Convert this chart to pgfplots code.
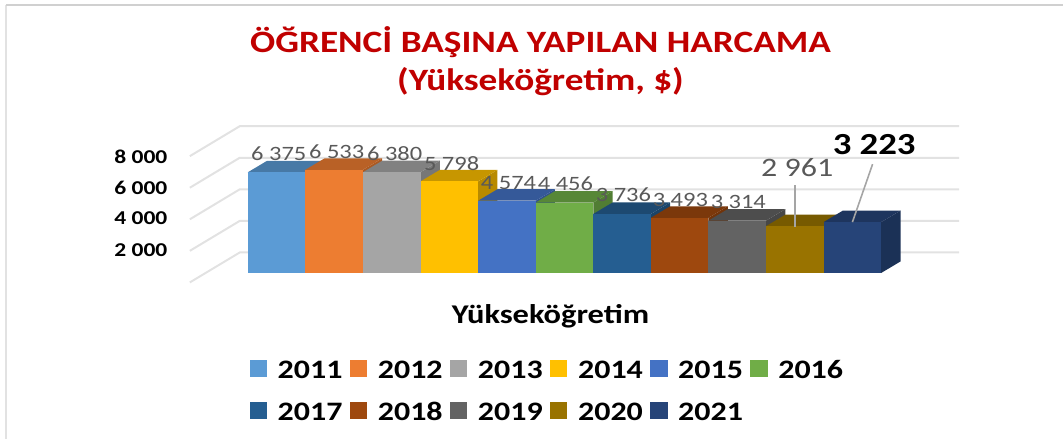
\documentclass[border=0pt]{standalone}
\usepackage{pgfplots}
\pgfplotsset{compat=1.18}
\usepackage{fontspec}
\setmainfont{Carlito}
\newfontfamily\wide[FakeStretch=1.2]{Carlito}
\definecolor{c1}{HTML}{5B9BD5}\definecolor{c2}{HTML}{ED7D31}\definecolor{c3}{HTML}{A5A5A5}
\definecolor{c4}{HTML}{FFC000}\definecolor{c5}{HTML}{4472C4}\definecolor{c6}{HTML}{70AD47}
\definecolor{c7}{HTML}{255E91}\definecolor{c8}{HTML}{9E480E}\definecolor{c9}{HTML}{636363}
\definecolor{c10}{HTML}{997300}\definecolor{c11}{HTML}{264478}
\definecolor{gridc}{HTML}{E2E2E2}\definecolor{lab}{HTML}{595959}\definecolor{ttl}{HTML}{C00000}
% one 3-D bar: position, value, colour
\newcommand{\threedbar}[3]{%
  \pgfmathsetmacro{\xa}{#1}\pgfmathsetmacro{\xb}{#1+1}%
  \pgfmathsetmacro{\xc}{#1+1.335}\pgfmathsetmacro{\xd}{#1+0.335}%
  \pgfmathsetmacro{\yt}{#2+728}%
  \addplot[fill=#3!72!black,draw=none,forget plot] coordinates {(\xb,0)(\xc,728)(\xc,\yt)(\xb,#2)} --cycle;
  \addplot[fill=#3!78!black,draw=none,forget plot] coordinates {(\xa,#2)(\xb,#2)(\xc,\yt)(\xd,\yt)} --cycle;
  \addplot[fill=#3,draw=none] coordinates {(\xa,0)(\xb,0)(\xb,#2)(\xa,#2)} --cycle;
}
% one gridline: value on the wall
\newcommand{\gridl}[1]{%
  \pgfmathsetmacro{\ya}{#1-601}\pgfmathsetmacro{\yb}{#1+1297}%
  \addplot[gridc,line width=1.5pt,forget plot] coordinates {(-1.006,\ya)(-0.139,\yb)(12.352,\yb)};
}
\newcommand{\PX}[2]{(axis cs:{(#1-248)/57.64},{(272.5-#2)/0.0158})}
\newcommand{\TX}[2]{(axis cs:{(#1-248)/57.64},{(271.5-#2)/0.0158})}
\begin{document}
\begin{tikzpicture}
\begin{axis}[
  width=798pt,height=329.25pt,scale only axis,
  xmin=-4.3025,xmax=14.157,ymin=-10494,ymax=17291,
  axis lines=none,clip=false,
  legend columns=6,
  legend cell align=left,
  legend style={at={\PX{250}{358}},anchor=north west,draw=none,fill=none,inner sep=0pt,outer sep=0pt,
    row sep=14.5pt,font=\wide\bfseries\fontsize{20pt}{20pt}\selectfont,
    nodes={text height=13pt,text depth=0pt},
    /tikz/every even column/.append style={column sep=3.5pt},
    /tikz/every odd column/.append style={column sep=6pt}},
  legend image code/.code={\fill[#1] (0pt,-5.75pt) rectangle (13pt,7.25pt);},
]
% page extent
\path (axis cs:-4.3025,-10494) rectangle (axis cs:14.157,17291);
% frame of the slide
\addplot[gridc,line width=1.5pt,forget plot] coordinates {(-4.2,16974)(-4.2,-10494)};
\addplot[gridc!92!black,line width=1.5pt,forget plot] coordinates {(-4.2,16974)(14.157,16974)};
\gridl{0}\gridl{2000}\gridl{4000}\gridl{6000}\gridl{8000}
\threedbar{0}{6375}{c1}
\threedbar{1}{6533}{c2}
\threedbar{2}{6380}{c3}
\threedbar{3}{5798}{c4}
\threedbar{4}{4574}{c5}
\threedbar{5}{4456}{c6}
\threedbar{6}{3736}{c7}
\threedbar{7}{3493}{c8}
\threedbar{8}{3314}{c9}
\threedbar{9}{2961}{c10}
\threedbar{10}{3223}{c11}
\legend{2011,2012,2013,2014,2015,2016,2017,2018,2019,2020,2021}
% leader lines
\addplot[c3,line width=1.2pt,forget plot] coordinates {(9.5,2930)(9.5,5590)};
\addplot[c3,line width=1.2pt,forget plot] coordinates {(10.5,3220)(10.85,6890)};
% title, axis title, tick labels
\node[ttl,font=\wide\bfseries\fontsize{23.3pt}{23.3pt}\selectfont] at \TX{541}{40} {ÖĞRENCİ BAŞINA YAPILAN HARCAMA};
\node[ttl,font=\wide\bfseries\fontsize{23.3pt}{23.3pt}\selectfont] at \TX{541}{80} {(Yükseköğretim, \$)};
\node[black,font=\wide\bfseries\fontsize{20.3pt}{20.3pt}\selectfont] at \TX{551}{315} {Yükseköğretim};
\foreach \t/\y in {{8 000}/155,{6 000}/186,{4 000}/217,{2 000}/249}{
  \edef\tmp{\noexpand\node[black,font=\noexpand\wide\noexpand\bfseries\noexpand\fontsize{14.7pt}{14.7pt}\noexpand\selectfont] at \noexpand\TX{141}{\y} {\t};}\tmp
}
% data labels
\def\lf{\wide\fontsize{15.3pt}{15.3pt}\selectfont}
\tikzset{dl/.style={lab,font=\lf,text height=10pt,text depth=0pt}}
\node[dl] at \TX{279}{152} {6 375};
\node[dl] at \TX{337}{150} {6 533};
\node[dl] at \TX{395}{152} {6 380};
\node[dl] at \TX{452}{162} {5 798};
\node[dl] at \TX{509}{181} {4 574};
\node[dl] at \TX{566}{182} {4 456};
\node[dl] at \TX{624}{193} {3 736};
\node[dl] at \TX{681}{198} {3 493};
\node[dl] at \TX{739}{200} {3 314};
\node[lab,font=\wide\fontsize{20pt}{20pt}\selectfont] at \TX{798}{166} {2 961};
\node[black,font=\wide\bfseries\fontsize{23pt}{23pt}\selectfont] at \TX{875}{143} {3 223};
\end{axis}
\end{tikzpicture}
\end{document}
